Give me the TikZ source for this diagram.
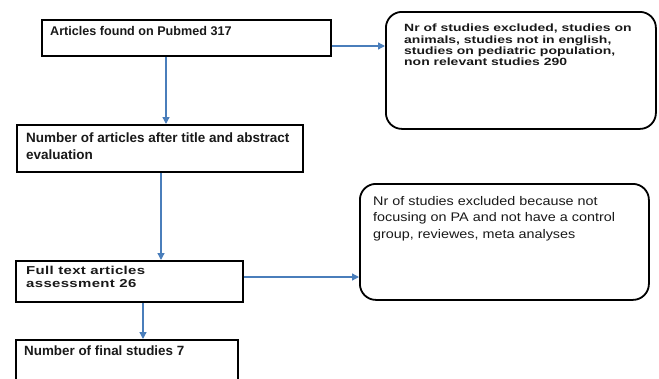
\documentclass[tikz,border=0pt]{standalone}
\usepackage{fontspec}
\setmainfont{Liberation Sans}
\usetikzlibrary{arrows.meta}
\definecolor{arrblue}{RGB}{74,126,187}
\begin{document}
\begin{tikzpicture}[x=1pt,y=-1pt,
  box/.style={draw=black, line width=1.8pt, minimum width=#1, inner sep=0pt, anchor=north west},
  rbox/.style={draw=black, line width=1.8pt, rounded corners=16pt, inner sep=0pt, anchor=north west},
  txt/.style={inner sep=0pt, anchor=north west, align=left, text=black!90},
  arr/.style={draw=arrblue, line width=1.3pt, -{Triangle[length=7pt,width=7pt]}}]
\useasboundingbox (0,0) rectangle (659,378);
\clip (0,0) rectangle (659,378);
% boxes
\node[box=289pt, minimum height=36pt] (b1) at (41,19) {};
\node[box=286pt, minimum height=47pt] (b2) at (16,124) {};
\node[box=227pt, minimum height=41pt] (b3) at (15,260) {};
\node[box=222pt, minimum height=70pt] (b4) at (15,339) {};
\node[rbox, minimum width=270pt, minimum height=117pt] (r1) at (385,11) {};
\node[rbox, minimum width=289pt, minimum height=116pt] (r2) at (359,183) {};
% texts
\node[txt, font=\fontsize{12.6}{15}\selectfont\bfseries] (t1) at (50,26) {Articles found on Pubmed 317};
\node[txt, font=\fontsize{13.5}{17}\selectfont\bfseries] (t2) at (26,133) {Number of articles after title and abstract\\evaluation};
\node[txt, font=\fontsize{11.5}{13.4}\selectfont\bfseries\addfontfeatures{FakeStretch=1.3,LetterSpace=3}] (t3) at (26,266) {Full text articles\\assessment 26};
\node[txt, font=\fontsize{13.4}{15}\selectfont\bfseries] (t4) at (24,346) {Number of final studies 7};
\node[txt, font=\fontsize{10.5}{11.2}\selectfont\bfseries\addfontfeatures{FakeStretch=1.33}] (t5) at (404,24) {Nr of studies excluded, studies on\\animals, studies not in english,\\studies on pediatric population,\\non relevant studies 290};
\node[txt, font=\fontsize{12.5}{16.5}\selectfont\addfontfeatures{FakeStretch=1.15}] (t6) at (373,196) {Nr of studies excluded because not\\focusing on PA and not have a control\\group, reviewes, meta analyses};
% connector guides
\coordinate (c1) at (166,46);
\coordinate (c2) at (161,0);
\coordinate (c3) at (143,0);
\coordinate (c4) at (0,277);
% connectors
\draw[arr] (b1.south -| c1) -- (b2.north -| c1);
\draw[arr] (b1.east |- c1) -- (r1.west |- c1);
\draw[arr] (b2.south -| c2) -- (b3.north -| c2);
\draw[arr] (b3.east |- c4) -- (r2.west |- c4);
\draw[arr] (b3.south -| c3) -- (b4.north -| c3);
\end{tikzpicture}
\end{document}
